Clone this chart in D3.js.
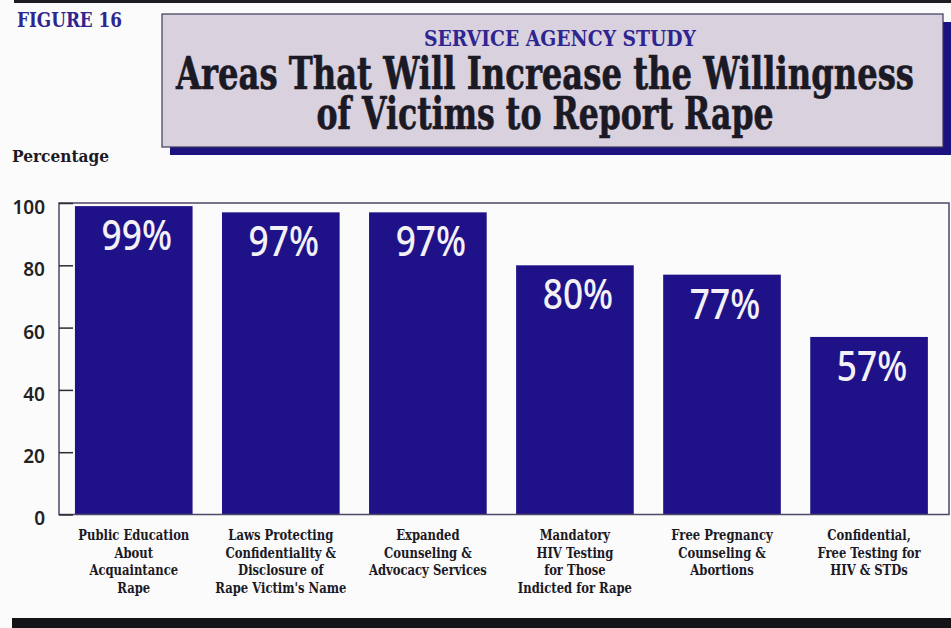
<!DOCTYPE html>
<html>
<head>
<meta charset="utf-8">
<script src="https://cdnjs.cloudflare.com/ajax/libs/d3/7.8.5/d3.min.js"></script>
<style>
  html, body { margin: 0; padding: 0; background: #fcfbfc; }
  svg { display: block; }
</style>
</head>
<body>
<div id="chart"></div>
<script>
// data
const categories = [
  ["Public Education", "About", "Acquaintance", "Rape"],
  ["Laws Protecting", "Confidentiality &", "Disclosure of", "Rape Victim's Name"],
  ["Expanded", "Counseling &", "Advocacy Services"],
  ["Mandatory", "HIV Testing", "for Those", "Indicted for Rape"],
  ["Free Pregnancy", "Counseling &", "Abortions"],
  ["Confidential,", "Free Testing for", "HIV & STDs"]
];
const values = [99, 97, 97, 80, 77, 57];
const yTicks = [0, 20, 40, 60, 80, 100];

const figureLabel = "FIGURE 16";
const kicker = "SERVICE AGENCY STUDY";
const titleLines = ["Areas That Will Increase the Willingness", "of Victims to Report Rape"];
const yLabel = "Percentage";

const width = 951, height = 628;
const barColor = "#1f1288";
const ink = "#1b1a24";
const purple = "#2e2590";
const slab = "'DejaVu Serif', 'Liberation Serif', serif";
const sans = "'Noto Sans', 'DejaVu Sans', sans-serif";

const svg = d3.select("#chart")
  .append("svg")
  .attr("width", width)
  .attr("height", height);

svg.append("rect")
  .attr("width", width)
  .attr("height", height)
  .attr("fill", "#fcfbfc");

// squeeze text horizontally
function fitWidth(sel, w) {
  sel.attr("textLength", w).attr("lengthAdjust", "spacingAndGlyphs");
}
function squeeze(sel, k) {
  sel.each(function () {
    const n = this.getComputedTextLength();
    d3.select(this).attr("textLength", n * k).attr("lengthAdjust", "spacingAndGlyphs");
  });
}

// top and bottom rules
svg.append("rect").attr("x", 14).attr("y", 0).attr("width", width - 14).attr("height", 3).attr("fill", "#1d1c22");
svg.append("rect").attr("x", 12).attr("y", 618).attr("width", width - 12).attr("height", 10).attr("fill", "#141318");

// figure label
svg.append("text")
  .attr("x", 17).attr("y", 27)
  .attr("fill", purple)
  .style("font-family", slab).style("font-weight", "bold").style("font-size", "21px")
  .text(figureLabel)
  .call(fitWidth, 105);

// title box with shadow
const box = { x: 162, y: 14, w: 781, h: 133 };
svg.append("rect")
  .attr("x", box.x + 8).attr("y", box.y + 8)
  .attr("width", box.w).attr("height", box.h)
  .attr("fill", "#1c1380");
svg.append("rect")
  .attr("x", box.x).attr("y", box.y)
  .attr("width", box.w).attr("height", box.h)
  .attr("fill", "#d9d1de")
  .attr("stroke", "#3d3858").attr("stroke-width", 1.2);

svg.append("text")
  .attr("x", 560).attr("y", 46)
  .attr("text-anchor", "middle")
  .attr("fill", purple)
  .style("font-family", slab).style("font-weight", "bold").style("font-size", "23px")
  .text(kicker)
  .call(fitWidth, 272);

const titleWidths = [738, 457];
titleLines.forEach((t, i) => {
  svg.append("text")
    .attr("x", 545).attr("y", 89 + i * 40)
    .attr("text-anchor", "middle")
    .attr("fill", ink)
    .attr("stroke", ink).attr("stroke-width", 0.7)
    .style("font-family", slab).style("font-weight", "bold").style("font-size", "44px")
    .text(t)
    .call(fitWidth, titleWidths[i]);
});

// y label
svg.append("text")
  .attr("x", 12).attr("y", 162)
  .attr("fill", ink)
  .style("font-family", slab).style("font-weight", "bold").style("font-size", "17px")
  .text(yLabel)
  .call(fitWidth, 97);

// scales
const plot = { left: 59, right: 949, top: 203, bottom: 514.5 };
const xScale = d3.scaleBand()
  .domain(d3.range(values.length))
  .range([plot.left, plot.right])
  .paddingInner(0.2)
  .paddingOuter(0.126)
  .align(0.43);

const yScale = d3.scaleLinear()
  .domain([0, 100])
  .range([plot.bottom, plot.top]);

// bars
svg.append("g")
  .selectAll("rect")
  .data(values)
  .join("rect")
  .attr("x", (d, i) => xScale(i))
  .attr("y", d => yScale(d))
  .attr("width", xScale.bandwidth())
  .attr("height", d => yScale(0) - yScale(d))
  .attr("fill", barColor);

// frame
svg.append("rect")
  .attr("x", plot.left).attr("y", plot.top)
  .attr("width", plot.right - plot.left).attr("height", plot.bottom - plot.top)
  .attr("fill", "none")
  .attr("stroke", "#4d4866").attr("stroke-width", 1.5);

// y axis
const yAxis = d3.axisLeft(yScale)
  .tickValues(yTicks)
  .tickSize(-14)
  .tickPadding(14)
  .tickFormat(d3.format("d"));

const gy = svg.append("g")
  .attr("transform", `translate(${plot.left},0)`)
  .call(yAxis);
gy.select(".domain").remove();
gy.selectAll(".tick line").attr("stroke", "#2c2a36").attr("stroke-width", 1.5);
gy.selectAll(".tick text")
  .attr("dy", "0.55em")
  .attr("fill", "#222")
  .style("font-family", sans).style("font-weight", "600").style("font-size", "19px");

// value labels
svg.append("g")
  .selectAll("text")
  .data(values)
  .join("text")
  .attr("x", (d, i) => xScale(i) + xScale.bandwidth() / 2 + 3)
  .attr("y", d => yScale(d) + 44)
  .attr("text-anchor", "middle")
  .attr("fill", "#f3f1f6")
  .style("font-family", sans).style("font-weight", "500").style("font-size", "41px")
  .text(d => d + "%")
  .call(squeeze, 0.86);

// category labels
const catG = svg.append("g")
  .selectAll("g")
  .data(categories)
  .join("g")
  .attr("transform", (d, i) => `translate(${xScale(i) + xScale.bandwidth() / 2},540)`);

catG.selectAll("text")
  .data(d => d)
  .join("text")
  .attr("x", 0)
  .attr("y", (d, j) => j * 17.7)
  .attr("text-anchor", "middle")
  .attr("fill", ink)
  .style("font-family", slab).style("font-weight", "bold").style("font-size", "14.5px")
  .text(d => d)
  .call(squeeze, 0.8);
</script>
</body>
</html>
